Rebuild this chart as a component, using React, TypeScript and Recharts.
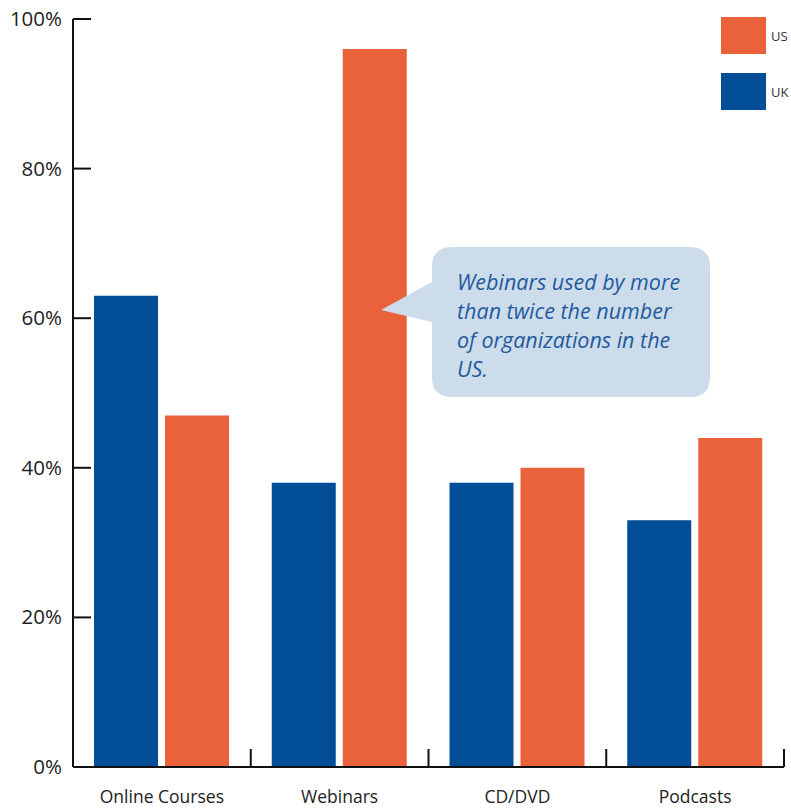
import { BarChart, Bar, XAxis, YAxis } from 'recharts';

const categories = ['Online Courses', 'Webinars', 'CD/DVD', 'Podcasts'];
const ukValues = [63, 38, 38, 33];
const usValues = [47, 96, 40, 44];
const yTicks = [0, 20, 40, 60, 80, 100];

const UK_COLOR = '#024e97';
const US_COLOR = '#e9623b';
const FONT = '"Open Sans", "DejaVu Sans", sans-serif';

const legendItems = [
  { name: 'US', color: US_COLOR },
  { name: 'UK', color: UK_COLOR },
];

const calloutLines = [
  'Webinars used by more',
  'than twice the number',
  'of organizations in the',
  'US.',
];

const chartData = categories.map((name, i) => ({
  name,
  uk: ukValues[i],
  us: usValues[i],
}));

// tick marks point inward, so draw them with the label
function YTick(props: any) {
  const { x, y, payload } = props;
  return (
    <g>
      <line x1={x} x2={x + 18} y1={y} y2={y} stroke="#111" strokeWidth={2} />
      <text x={x - 11} y={y} dy={7} textAnchor="end" fill="#222" fontSize={20.5} fontFamily={FONT}>
        {`${payload.value}%`}
      </text>
    </g>
  );
}

function XTick(props: any) {
  const { x, y, payload } = props;
  const edge = x + (payload.offset ?? 0);
  return (
    <g>
      <line x1={edge} x2={edge} y1={y} y2={y - 18} stroke="#111" strokeWidth={2} />
      <text x={x} y={y} dy={36} textAnchor="middle" fill="#222" fontSize={17.5} fontFamily={FONT}>
        {payload.value}
      </text>
    </g>
  );
}

// speech bubble sits on top of the chart, pointer overlaps the webinars bar
function Callout() {
  return (
    <svg width={791} height={808} style={{ position: 'absolute', left: 0, top: 0, pointerEvents: 'none' }}>
      <path
        d="M 452 247 H 690 Q 710 247 710 267 V 377 Q 710 397 690 397 H 452 Q 432 397 432 377 V 322 L 381 310 L 432 282 V 267 Q 432 247 452 247 Z"
        fill="#cddcea"
      />
      {calloutLines.map((line, i) => (
        <text
          key={i}
          x={457}
          y={290 + i * 29}
          fill="#1f5a9f"
          fontSize={21.5}
          fontStyle="italic"
          fontFamily={FONT}
        >
          {line}
        </text>
      ))}
    </svg>
  );
}

export default function App() {
  return (
    <div style={{ position: 'absolute', left: 0, top: 0, width: 791, height: 808, background: '#fff' }}>
      <BarChart
        width={791}
        height={808}
        data={chartData}
        margin={{ top: 19, right: 7, bottom: 0, left: 0 }}
        barGap={7}
        barSize={64}
      >
        <YAxis
          width={73}
          domain={[0, 100]}
          ticks={yTicks}
          interval={0}
          tickSize={0}
          tickMargin={0}
          tickLine={false}
          axisLine={{ stroke: '#111', strokeWidth: 2 }}
          tick={(p: any) => <YTick {...p} />}
        />
        <XAxis
          dataKey="name"
          height={41}
          interval={0}
          tickSize={0}
          tickMargin={0}
          tickLine={false}
          axisLine={{ stroke: '#111', strokeWidth: 2 }}
          tick={(p: any) => <XTick {...p} />}
        />
        <Bar dataKey="uk" fill={UK_COLOR} isAnimationActive={false} />
        <Bar dataKey="us" fill={US_COLOR} isAnimationActive={false} />
      </BarChart>
      <Callout />
      <div style={{ position: 'absolute', left: 721, top: 17, fontFamily: FONT }}>
        {legendItems.map((item) => (
          <div key={item.name} style={{ display: 'flex', alignItems: 'center', height: 37, marginBottom: 19 }}>
            <div style={{ width: 45, height: 37, background: item.color }} />
            <span style={{ marginLeft: 5, fontSize: 13, color: '#333' }}>{item.name}</span>
          </div>
        ))}
      </div>
    </div>
  );
}
